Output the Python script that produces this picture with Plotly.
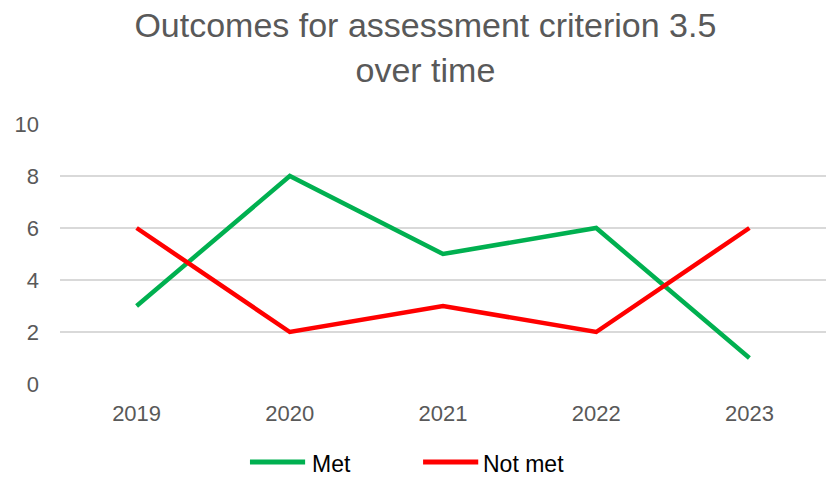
import plotly.graph_objects as go

years = ["2019", "2020", "2021", "2022", "2023"]
met = [3, 8, 5, 6, 1]
not_met = [6, 2, 3, 2, 6]
series_names = ["Met", "Not met"]
series_colors = ["#00B050", "#FF0000"]

fig = go.Figure()
for name, vals, col in zip(series_names, [met, not_met], series_colors):
    fig.add_trace(go.Scatter(x=years, y=vals, mode="lines", name=name,
                             line=dict(color=col, width=4.5), showlegend=False))

# custom legend (long line samples like the reference)
leg_y = -0.3
leg_items = [(0.248, 0.320, 0.326), (0.474, 0.546, 0.550)]
for (x0, x1, xt), name, col in zip(leg_items, series_names, series_colors):
    fig.add_shape(type="line", xref="paper", yref="paper", x0=x0, x1=x1, y0=leg_y, y1=leg_y,
                  line=dict(color=col, width=5))
    fig.add_annotation(text=name, xref="paper", yref="paper", x=xt, y=leg_y - 0.008,
                       xanchor="left", yanchor="middle", showarrow=False,
                       font=dict(size=23, color="#000000"))

fig.update_layout(
    width=826, height=480,
    margin=dict(l=60, r=0, t=124, b=96),
    paper_bgcolor="white", plot_bgcolor="white",
    font=dict(family="Liberation Sans, Arial, sans-serif", color="#595959"),
    title=dict(text="Outcomes for assessment criterion 3.5<br>over time",
               font=dict(size=34, color="#595959"),
               x=0.515, xanchor="center", xref="container",
               y=0.922, yanchor="middle", yref="container"),
    showlegend=False,
)
fig.update_xaxes(type="category", range=[-0.5, 4.5], showgrid=False, showline=False, zeroline=False,
                 automargin=False,
                 tickfont=dict(size=22, color="#595959"), ticklabelstandoff=14)
fig.update_yaxes(range=[0, 10], dtick=2, showgrid=True, gridcolor="#D9D9D9", gridwidth=1.5,
                 zeroline=False, showline=False, automargin=False,
                 tickfont=dict(size=22, color="#595959"), ticklabelstandoff=20)

fig.write_html("out.html", config={"displayModeBar": False},
               post_script="document.body.style.margin='0';document.body.style.overflow='hidden';")
